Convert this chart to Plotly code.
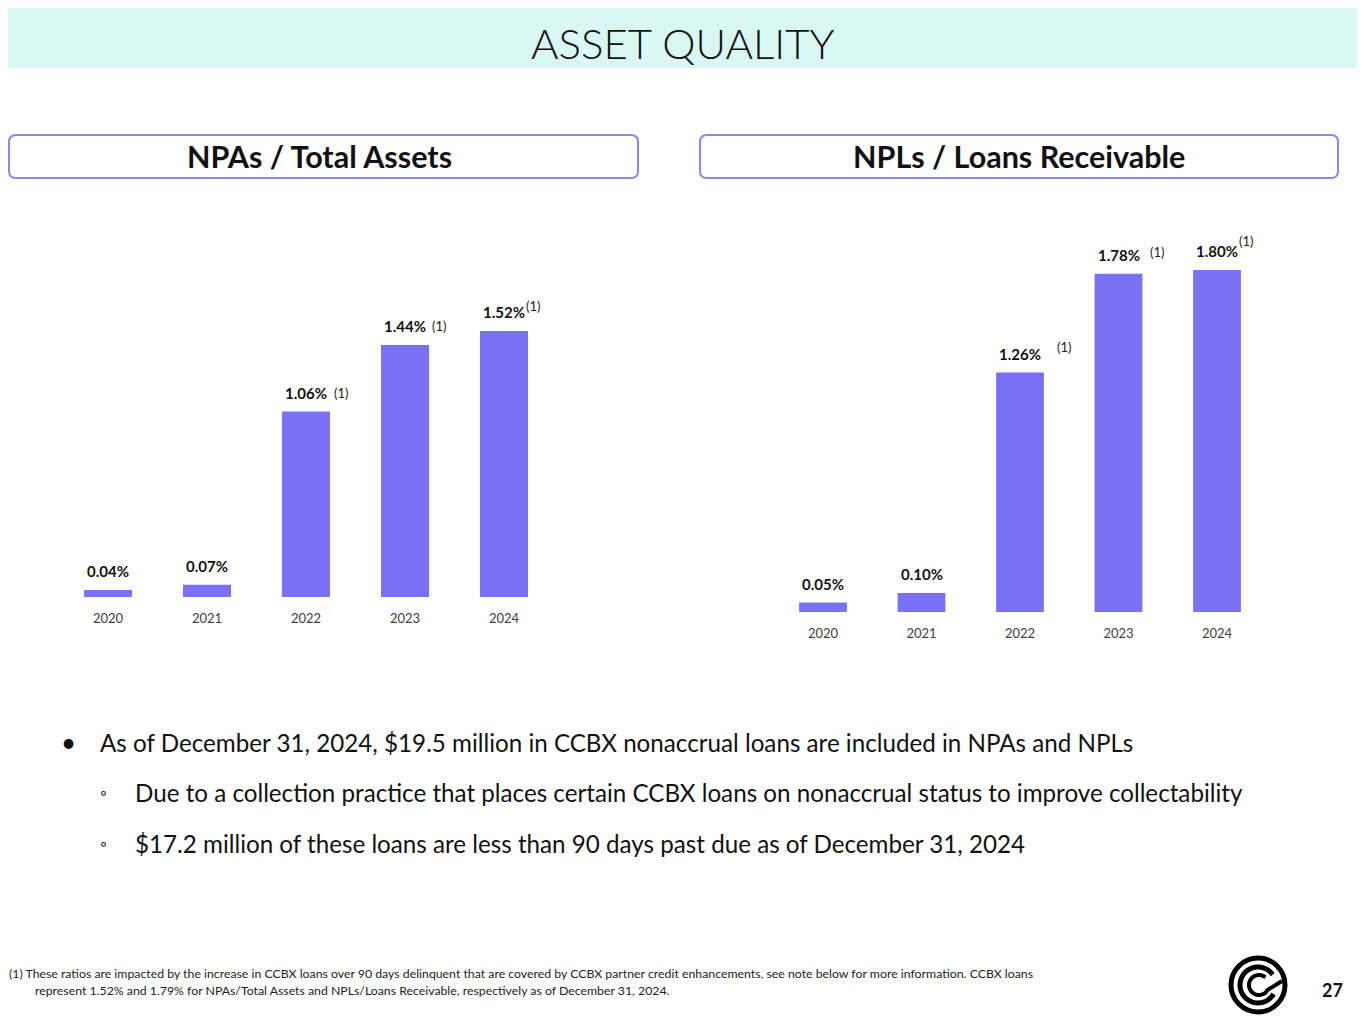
import numpy as np
import plotly.graph_objects as go

# ---- data ----
years = ["2020", "2021", "2022", "2023", "2024"]
npa_pct = [0.04, 0.07, 1.06, 1.44, 1.52]
npl_pct = [0.05, 0.10, 1.26, 1.78, 1.80]
npa_note = ["", "", "(1)", "(1)", "(1)"]
npl_note = ["", "", "(1)", "(1)", "(1)"]

panel_titles = ["NPAs / Total Assets", "NPLs / Loans Receivable"]
bullets = [
    "As of December 31, 2024, $19.5 million in CCBX nonaccrual loans are included in NPAs and NPLs",
    "Due to a collection practice that places certain CCBX loans on nonaccrual status to improve collectability",
    "$17.2 million of these loans are less than 90 days past due as of December 31, 2024",
]
footnote = [
    "(1) These ratios are impacted by the increase in CCBX loans over 90 days delinquent that are covered by CCBX partner credit enhancements, see note below for more information. CCBX loans",
    "represent 1.52% and 1.79% for NPAs/Total Assets and NPLs/Loans Receivable, respectively as of December 31, 2024.",
]

# ---- styling ----
W, H = 1365, 1024
OFF = 8  # the page body margin pushes the figure 8px right/down
BAR = "#7A72F6"
EDGE = "#8E86EC"
FONT = "Lato"
# pixel offsets of the "(1)" markers relative to each bar's value label
npa_note_shift = [None, None, (26, 0), (25, 0), (20, 6)]
npl_note_shift = [None, None, (35, 7), (29, 3), (20, 10)]


def px(x):
    return (x - OFF) / W


def py(y):
    return 1 - (y - OFF) / H


def rounded_box(x0, y0, x1, y1, r):
    p = [
        f"M {px(x0 + r)},{py(y0)}",
        f"L {px(x1 - r)},{py(y0)}",
        f"Q {px(x1)},{py(y0)} {px(x1)},{py(y0 + r)}",
        f"L {px(x1)},{py(y1 - r)}",
        f"Q {px(x1)},{py(y1)} {px(x1 - r)},{py(y1)}",
        f"L {px(x0 + r)},{py(y1)}",
        f"Q {px(x0)},{py(y1)} {px(x0)},{py(y1 - r)}",
        f"L {px(x0)},{py(y0 + r)}",
        f"Q {px(x0)},{py(y0)} {px(x0 + r)},{py(y0)} Z",
    ]
    return " ".join(p)


def arc_path(cx, cy, r, a0, a1, n=40):
    t = np.radians(np.linspace(a0, a1, n))
    xs = cx + r * np.cos(t)
    ys = cy - r * np.sin(t)
    pts = [f"{px(x)},{py(y)}" for x, y in zip(xs, ys)]
    return "M " + " L ".join(pts)


def note(x, y, text, size, xanchor="left", color="#111111"):
    return dict(x=px(x), y=py(y), xref="paper", yref="paper", text=text, showarrow=False,
                xanchor=xanchor, yanchor="middle", font=dict(size=size, color=color))


fig = go.Figure()
fig.add_trace(go.Bar(x=years, y=npa_pct, marker_color=BAR, xaxis="x", yaxis="y",
                     hoverinfo="skip"))
fig.add_trace(go.Bar(x=years, y=npl_pct, marker_color=BAR, xaxis="x2", yaxis="y2",
                     hoverinfo="skip"))

ann = []


def value_labels(vals, notes, shifts, xr, yr):
    for i, (v, n, s) in enumerate(zip(vals, notes, shifts)):
        ann.append(dict(x=i, y=v, xref=xr, yref=yr, text=f"<b>{v:.2f}%</b>",
                        showarrow=False, xanchor="center", yanchor="bottom", yshift=8,
                        font=dict(size=15, color="#111111")))
        if n:
            ann.append(dict(x=i, y=v, xref=xr, yref=yr, text=n, showarrow=False,
                            xanchor="left", yanchor="bottom", xshift=s[0], yshift=9 + s[1],
                            font=dict(size=13, color="#222222")))


value_labels(npa_pct, npa_note, npa_note_shift, "x", "y")
value_labels(npl_pct, npl_note, npl_note_shift, "x2", "y2")

# title banner
title = note(682.5, 43, "ASSET QUALITY", 42, "center")
title["font"].update(family=FONT, weight=300)
ann.append(title)

# panel headers
boxes = [(9, 638), (700, 1338)]
for t, (x0, x1) in zip(panel_titles, [(1, 638), (700, 1338)]):
    ann.append(note((x0 + x1) / 2, 156, f"<b>{t}</b>", 30.5, "center"))

# bullets
for i, (b, y) in enumerate(zip(bullets, [742, 792, 843])):
    mark, mx, tx = ("•", 68, 98) if i == 0 else ("◦", 103, 133)
    ann.append(note(mx, y, mark, 26 if i == 0 else 17, "center"))
    ann.append(note(tx, y, b, 24.2))

# footnote
for line, x, y in zip(footnote, [7, 33], [973, 990]):
    ann.append(note(x, y, line, 12.3, color="#222222"))

# page number
ann.append(note(1332, 990, "<b>27</b>", 18, "center"))

shapes = [
    dict(type="rect", xref="paper", yref="paper", x0=0, x1=1, y0=py(68), y1=1,
         fillcolor="#DAF8F3", line_width=0, layer="below"),
]
for x0, x1 in boxes:
    shapes.append(dict(type="path", xref="paper", yref="paper", path=rounded_box(x0, 135, x1, 178, 7),
                       line=dict(color=EDGE, width=2), fillcolor="white"))

# logo: ring plus two nested open arcs
cx, cy = 1258, 985
shapes.append(dict(type="circle", xref="paper", yref="paper",
                   x0=px(cx - 27), x1=px(cx + 27), y0=py(cy + 27), y1=py(cy - 27),
                   line=dict(color="black", width=5)))
shapes.append(dict(type="path", xref="paper", yref="paper", path=arc_path(cx, cy, 18, 35, 330),
                   line=dict(color="black", width=5)))
shapes.append(dict(type="path", xref="paper", yref="paper", path=arc_path(cx + 1, cy, 10, 50, 320),
                   line=dict(color="black", width=4)))
shapes.append(dict(type="path", xref="paper", yref="paper",
                   path=f"M {px(cx + 8)},{py(cy + 6)} L {px(cx + 24)},{py(cy - 4)}",
                   line=dict(color="black", width=4)))

axis_common = dict(showgrid=False, zeroline=False, showline=False, ticks="", automargin=False,
                   tickfont=dict(size=13, color="#404040"), fixedrange=True,
                   range=[-0.5, 4.5], type="category", ticklabelstandoff=12)
fig.update_layout(
    template="none",
    width=W, height=H,
    margin=dict(l=0, r=0, t=0, b=0, pad=0),
    paper_bgcolor="white", plot_bgcolor="white",
    font=dict(family=FONT, color="#111111"),
    showlegend=False,
    bargap=0.515,
    xaxis=dict(domain=[px(58.5), px(553.5)], anchor="y", **axis_common),
    xaxis2=dict(domain=[px(773.75), px(1266.25)], anchor="y2", **axis_common),
    yaxis=dict(domain=[py(597), py(247)], range=[0, 2], visible=False, automargin=False),
    yaxis2=dict(domain=[py(612), py(232)], range=[0, 2], visible=False, anchor="x2",
                automargin=False),
    annotations=ann,
    shapes=shapes,
)

fig.write_html("out.html")
